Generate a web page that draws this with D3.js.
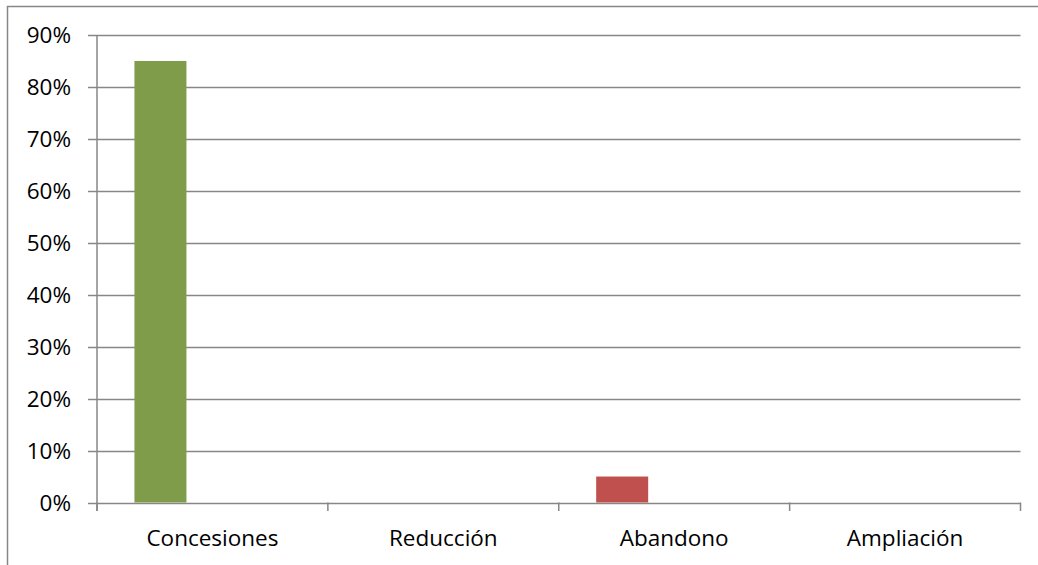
<!DOCTYPE html>
<html><head><meta charset="utf-8">
<script src="https://cdn.jsdelivr.net/npm/d3@7"></script>
<style>html,body{margin:0;padding:0;background:#fff;overflow:hidden}</style>
</head><body>
<svg id="c" width="1038" height="565"></svg>
<script>
const categories = ["Concesiones", "Reducción", "Abandono", "Ampliación"];
const values = [0.85, 0, 0.05, 0];
const barColors = ["#7F9C4A", "#7F9C4A", "#C0504D", "#C0504D"];
const seriesSlots = ["s1", "s2", "s3"];
const yTicks = [0, 0.1, 0.2, 0.3, 0.4, 0.5, 0.6, 0.7, 0.8, 0.9];

const svg = d3.select("#c");
const FONT = "'Open Sans', sans-serif";
const gridColor = "#878787";

svg.append("rect").attr("x", 7.5).attr("y", 6.5).attr("width", 1200).attr("height", 800)
  .attr("fill", "none").attr("stroke", gridColor).attr("stroke-width", 1.5);

const x = d3.scaleBand().domain(categories).range([97, 1020.5]).padding(0);
const xs = d3.scaleBand().domain(seriesSlots).range([0, x.bandwidth()]).paddingInner(0).paddingOuter(0.72);
const y = d3.scaleLinear().domain([0, 0.9]).range([502.5, 35]);

// gridlines
svg.append("g").selectAll("line").data(yTicks).join("line")
  .attr("x1", 88).attr("x2", 1020.5)
  .attr("y1", d => Math.round(y(d)) + 0.5).attr("y2", d => Math.round(y(d)) + 0.5)
  .attr("stroke", gridColor).attr("stroke-width", 1.5);

// y axis line
svg.append("line").attr("x1", 97).attr("x2", 97).attr("y1", y(0.9)).attr("y2", 511)
  .attr("stroke", gridColor).attr("stroke-width", 1.5);

// x ticks
const bounds = categories.map(c => x(c)).concat([x.range()[1]]);
svg.append("g").selectAll("line").data(bounds).join("line")
  .attr("x1", d => d).attr("x2", d => d).attr("y1", y(0)).attr("y2", 511)
  .attr("stroke", gridColor).attr("stroke-width", 1.5);

// bars
svg.append("g").selectAll("rect").data(categories).join("rect")
  .attr("x", (c) => x(c) + xs("s1"))
  .attr("width", xs.bandwidth())
  .attr("y", (c, i) => y(values[i]))
  .attr("height", (c, i) => y(0) - y(values[i]))
  .attr("fill", (c, i) => barColors[i]);

// y labels
svg.append("g").selectAll("text").data(yTicks).join("text")
  .attr("x", 71).attr("y", d => y(d)).attr("dy", "0.36em")
  .attr("text-anchor", "end").attr("font-family", FONT).attr("font-size", 22.5).attr("fill", "#000")
  .text(d => d3.format(".0%")(d));

// x labels
svg.append("g").selectAll("text").data(categories).join("text")
  .attr("x", c => x(c) + x.bandwidth() / 2).attr("y", 546)
  .attr("text-anchor", "middle").attr("font-family", FONT).attr("font-size", 22.5).attr("fill", "#000")
  .text(c => c);
</script>
</body></html>
